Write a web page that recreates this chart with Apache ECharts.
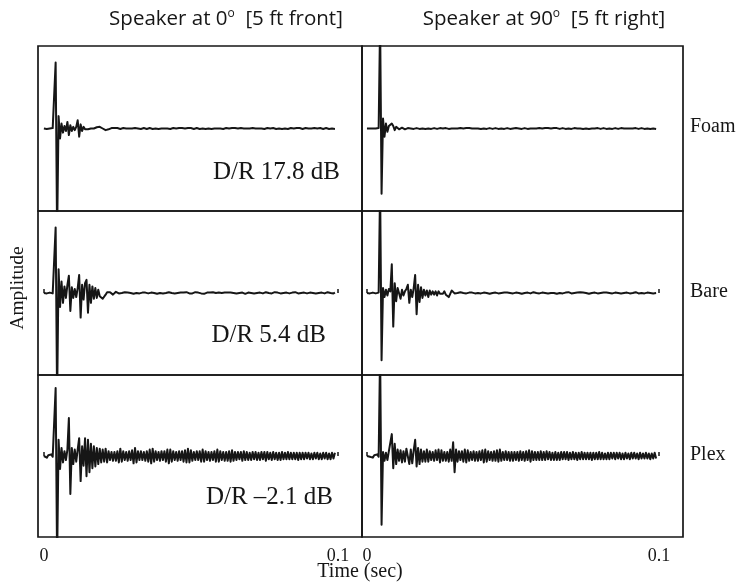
<!DOCTYPE html>
<html>
<head>
<meta charset="utf-8">
<script src="https://cdn.jsdelivr.net/npm/echarts@6/dist/echarts.min.js"></script>
<style>
  html, body { margin: 0; padding: 0; background: #fff; }
  #chart { width: 739px; height: 584px; }
</style>
</head>
<body>
<div id="chart"></div>
<script>
// Room impulse responses, sampled every 0.5 ms from t = 0 to ~0.1 s.
// Amplitude is in percent of the panel half-height (peaks beyond ±100 are clipped).
const SAMPLE_STEP = 0.0005;

const columnTitles = ['Speaker at 0', 'Speaker at 90'];
const columnNotes = ['[5 ft front]', '[5 ft right]'];
const rowNames = ['Foam', 'Bare', 'Plex'];
const drLabels = ['D/R 17.8 dB', 'D/R 5.4 dB', 'D/R \u20132.1 dB'];
const timeTicks = [0, 0.1];
const timeTickLabels = ['0', '0.1'];

const foam0 = [
  0, 0.5, -0.5, 0.5, 0, -0.5, 0.5, 0, 80, -130,
  15, -12, 6, -5, 3, -3, 8, -8, 4, -3,
  2, -2, 2, 10, -10, 5, -3, 2, -1, 1,
  -1, 1, 0, 1, 0, 1, 1.5, 2, 2, 1,
  0, -1, -2, -2, -1, 0, 0.5, 0, 0.5, 0,
  0.5, 0, -0.5, 0, 0.5, 0.5, 0, -0.5, 0, 0.5,
  0, -0.5, 0.5, 0, 0, 0.5, -0.5, 0, 0.5, 0,
  -0.5, 0, 0.5, 0, -0.5, 0.5, 0, 0, -0.5, 0.5,
  0, 0.5, 0, -0.5, 0, 0.5, -0.5, 0, 0.5, 0,
  0, -0.5, 0.5, 0, 0.5, -0.5, 0, 0, 0.5, -0.5,
  0.5, 0, -0.5, 0, 0.5, 0, -0.5, 0.5, 0, 0,
  -0.5, 0.5, 0, 0.5, -0.5, 0, 0, 0.5, 0, -0.5,
  0, 0.5, -0.5, 0, 0.5, 0, 0, -0.5, 0.5, 0,
  0.5, -0.5, 0, 0, 0.5, -0.5, 0, 0.5, 0, -0.5,
  0, 0, 0.5, -0.5, 0, 0.5, 0, -0.5, 0, 0.5,
  -0.5, 0, 0.5, 0, 0, -0.5, 0.5, 0, -0.5, 0.5,
  0, 0.5, -0.5, 0, 0, 0.5, -0.5, 0, 0.5, 0,
  0, -0.5, 0.5, 0, 0.5, 0, -0.5, 0, 0.5, -0.5,
  0, 0.5, 0, -0.5, 0.5, 0, 0, -0.5, 0.5, 0,
  -0.5, 0, 0.5, 0, -0.5, 0.5, 0, 0.5, -0.5
];

const foam90 = [
  0, 0.5, 0, -0.5, 0, 0.5, 0, 0, 0.5, 130,
  -79, 12, -10, 6, -4, 3, 5, 6, 3, -2,
  2, 3, -1, 0, 1, 0, -1, 0, 0.5, 0,
  0, 0.5, -0.5, 0, 0.5, 0, -0.5, 0.5, 0, 0,
  -0.5, 0.5, 0, 0.5, -0.5, 0, 0.5, 0, -0.5, 0,
  0.5, -0.5, 0, 0, 0.5, 0, -0.5, 0.5, 0, -0.5,
  0, 0.5, 0, -0.5, 0.5, 0, 0, -0.5, 0.5, 0,
  0.5, -0.5, 0, 0.5, 0, -0.5, 0, 0.5, -0.5, 0,
  0, 0.5, -0.5, 0, 0.5, 0, -0.5, 0, 0.5, 0.5,
  -0.5, 0, 0, 0.5, -0.5, 0, 0.5, 0, -0.5, 0.5,
  0, -0.5, 0.5, 0, 0, 0.5, -0.5, 0, 0.5, 0,
  -0.5, 0.5, 0, -0.5, 0, 0.5, 0, -0.5, 0.5, 0,
  0, -0.5, 0.5, 0, 0.5, -0.5, 0, 0, 0.5, -0.5,
  0.5, 0, -0.5, 0, 0.5, 0, -0.5, 0.5, 0, 0,
  -0.5, 0, 0.5, -0.5, 0, 0.5, 0, 0, -0.5, 0.5,
  0, 0.5, -0.5, 0, 0, 0.5, 0, -0.5, 0.5, 0,
  -0.5, 0, 0.5, 0, -0.5, 0.5, 0, 0.5, -0.5, 0,
  0.5, 0, -0.5, 0, 0.5, -0.5, 0, 0.5, 0, -0.5,
  0, 0.5, 0, -0.5, 0.5, 0, -0.5, 0, 0.5, 0,
  -0.5, 0.5, 0, 0, -0.5, 0.5, 0, 0.5, -0.5
];

const bare0 = [
  0, 0.5, -0.5, 0, 0.5, 0, -0.5, 0.5, 80, -130,
  29, -17, 14, -12, 8, -6, 10, 21, -22, 7,
  -6, 5, -5, 6, 22, -30, 10, -8, 12, 16,
  -24, 10, -12, 8, -7, 6, -6, 4, -4, -6,
  -7, -5, -2, 1, 2, 1, -1, -2, 0, 1.5,
  1, -0.5, 0.5, 0, -0.5, 1, 1, 0.5, -0.5, 0,
  0.5, -1, 0.5, 0, 1, -0.5, 0, 0.5, -1, 0.5,
  0, -0.5, 1, 0.5, -0.5, 0, 0.5, -1, 0.5, 0,
  1, -0.5, 0.5, 0, -0.5, 1, -0.5, 0, 0.5, -0.5,
  0.5, 0, -1, 0.5, 0, 0.5, -0.5, 1, 0, -0.5,
  0.5, -0.5, 0, 1, -0.5, 0.5, 0, -0.5, 0.5, -1,
  0, 0.5, -0.5, 0.5, 0, 1, -0.5, 0, -0.5, 0.5,
  1, 0, -0.5, 0.5, -1, 0.5, 0, 0.5, -0.5, 0,
  0.5, -0.5, 1, 0, -0.5, 0.5, 0, -1, 0.5, 0.5,
  -0.5, 0, 0.5, -0.5, 1, 0, -0.5, 0.5, 0, -0.5,
  0.5, 1, -0.5, 0, 0.5, -0.5, 0, 1, -0.5, 0.5,
  0, -0.5, 0.5, 0, -1, 0.5, 0.5, -0.5, 0, 0.5,
  -0.5, 1, 0, -0.5, 0.5, 0, -0.5, 0.5, 1, -0.5,
  0, 0.5, -0.5, 0, 1, -0.5, 0.5, 0, -0.5, 0.5,
  0, -0.5, 0.5, 1, -0.5, 0, 0.5, -0.5, 0.5
];

const bare90 = [
  0, 0.5, -0.5, 0, 0.5, 0, -0.5, 0, 0.5, 130,
  -82, 6, -5, 4, -3, 5, 2, 35, -41, 12,
  -10, 6, 8, -7, 4, -3, 2, 5, 10, -12,
  4, -5, 6, 22, -26, 10, -11, 7, -6, 4,
  -3, 3, -5, 3, -2, 2, -2, 2, -3, 2,
  -1, 1, -1, 2, -2, -3, -5, -7, 3, 1,
  -0.5, 0.5, 0, -0.5, 1, -0.5, 0, 0.5, -0.5, 0,
  0.5, -1, 0.5, 0, -0.5, 0.5, 0, 1, -0.5, 0,
  0.5, -0.5, 0, 0.5, -1, 0.5, 0, -0.5, 0.5, 0,
  -0.5, 1, 0, -0.5, 0.5, 0, 0.5, -0.5, 0, 1,
  -0.5, 0, 0.5, -0.5, 0, 0.5, -1, 0.5, 0, -0.5,
  0.5, 0, -0.5, 0.5, 1, -0.5, 0, 0.5, -0.5, 0,
  0.5, -0.5, 0, 1, -0.5, 0.5, 0, -0.5, 0, 0.5,
  -1, 0.5, 0, 0.5, -0.5, 0, 0.5, -0.5, 1, 0,
  -0.5, 0.5, 0, -0.5, 0.5, 0, 1, -0.5, 0.5, -0.5,
  0, 0.5, -1, 0.5, 0, -0.5, 0.5, 0, -0.5, 1,
  0, -0.5, 0.5, 0, 0.5, -0.5, 0, 1, -0.5, 0,
  0.5, -0.5, 0, 0.5, -0.5, 1, 0, -0.5, 0.5, 0,
  -0.5, 0.5, 0, -0.5, 1, 0, -0.5, 0.5, 0, 0.5,
  -0.5, 0, 0.5, -0.5, 0, 0.5, -0.5, 0.5, 0
];

const plex0 = [
  0, 2, -2, 1, -1, 2, -1, 1, 84, -130,
  20, -16, 10, -8, 6, -5, 8, 47, -47, 10,
  -10, 8, -7, 8, 22, -31, 12, -12, 22, -25,
  20, -20, 15, -15, 12, -13, 10, -10, 9, -8,
  8, -7, 9, -8, 6, -5, 5, -6, 5, -6,
  6, -8, 9, -7, 6, -5, 5, -6, 6, -5,
  7, -9, 10, -8, 6, -5, 6, -5, 5, -6,
  6, -7, 8, -9, 9, -7, 6, -5, 5, -6,
  6, -5, 6, -7, 8, -9, 8, -7, 6, -5,
  5, -6, 6, -5, 6, -7, 7, -8, 9, -8,
  7, -6, 5, -5, 6, -5, 6, -7, 8, -7,
  6, -5, 5, -6, 5, -5, 6, -7, 8, -7,
  6, -5, 5, -6, 5, -6, 6, -7, 7, -6,
  5, -5, 5, -4, 5, -6, 6, -5, 5, -5,
  4, -5, 5, -4, 5, -5, 4, -5, 5, -4,
  5, -6, 5, -4, 4, -5, 5, -4, 4, -5,
  4, -5, 5, -4, 4, -4, 5, -4, 4, -4,
  4, -4, 4, -5, 4, -4, 4, -4, 4, -3,
  4, -4, 3, -4, 4, -3, 4, -4, 3, -4,
  4, -3, 4, -4, 3, -4, 4, -3, 4
];

const plex90 = [
  0, 2, -1, 1, -2, 1, -1, 2, -1, 130,
  -85, 5, -6, 4, -5, 6, 8, 27, -15, 15,
  -10, 8, -6, 7, -8, 6, -7, 9, 10, -10,
  8, -9, 7, 20, -13, 10, -10, 8, -7, 6,
  -7, 8, -7, 6, -5, 5, -6, 7, -5, 8,
  -8, 7, -6, 5, -6, 5, -7, 8, -6, 17,
  -20, 8, -7, 6, -5, 6, -7, 8, -8, 7,
  -6, 5, -5, 6, -6, 5, -6, 6, -5, 7,
  -8, 8, -7, 6, -5, 5, -6, 6, -6, 7,
  -7, 8, -6, 5, -5, 6, -5, 5, -6, 5,
  -6, 5, -5, 5, -6, 6, -5, 5, -6, 6,
  -5, 7, -7, 6, -5, 5, -5, 5, -5, 6,
  -5, 5, -5, 6, -4, 5, -5, 4, -5, 5,
  -5, 4, -5, 5, -4, 5, -4, 5, -5, 4,
  -4, 5, -4, 4, -5, 4, -4, 5, -4, 4,
  -4, 4, -4, 4, -5, 4, -4, 4, -4, 5,
  -4, 4, -4, 3, -4, 4, -4, 4, -3, 4,
  -4, 4, -3, 4, -4, 3, -4, 4, -3, 3,
  -4, 4, -3, 4, -3, 3, -4, 4, -3, 3,
  -3, 4, -3, 3, -4, 3, -3, 4, -3
];

// panel order: row-major (Foam, Bare, Plex) x (0 deg, 90 deg)
const panelSeries = [foam0, foam90, bare0, bare90, plex0, plex90];

const chart = echarts.init(document.getElementById('chart'), null, { renderer: 'canvas' });

const colLeft = [38, 362];
const colWidth = [324, 321];
const colRange = [[-0.002, 0.1082], [-0.0017, 0.1082]];
const rowTop = [46, 211, 375];
const rowHeight = [165, 164, 162];

const INK = '#161616';
const SERIF = '"Liberation Serif", "Times New Roman", serif';
const SANS = '"Open Sans", "Noto Sans", sans-serif';

const grids = [], xAxes = [], yAxes = [], series = [];
for (let r = 0; r < 3; r++) {
  for (let c = 0; c < 2; c++) {
    const k = r * 2 + c;
    grids.push({
      left: colLeft[c], top: rowTop[r], width: colWidth[c], height: rowHeight[r],
      show: true, borderColor: INK, borderWidth: 1.7, backgroundColor: 'transparent'
    });
    const showTicks = r > 0;
    const showLabels = r === 2;
    xAxes.push({
      type: 'value', gridIndex: k, min: colRange[c][0], max: colRange[c][1],
      axisLine: { show: false },
      splitLine: { show: false },
      axisTick: {
        show: showTicks, inside: true, length: 4, customValues: timeTicks,
        lineStyle: { color: INK, width: 1.5 }
      },
      axisLabel: {
        show: showLabels, customValues: timeTicks, margin: 10,
        formatter: v => timeTickLabels[timeTicks.indexOf(v)] ?? '',
        fontFamily: SERIF, fontSize: 18, color: INK
      }
    });
    yAxes.push({ type: 'value', gridIndex: k, min: -100, max: 100, show: false });
    series.push({
      type: 'line', xAxisIndex: k, yAxisIndex: k,
      data: panelSeries[k].map((a, i) => [i * SAMPLE_STEP, a]),
      showSymbol: false, symbol: 'none', clip: true, animation: false,
      lineStyle: { color: INK, width: 2, join: 'round' }
    });
  }
}

const graphics = [];
// column headings
const titleCenters = [226, 544];
for (let c = 0; c < 2; c++) {
  graphics.push({
    type: 'text', x: titleCenters[c], y: 19,
    style: {
      text: columnTitles[c] + '{sup|o}  ' + columnNotes[c],
      font: '20.5px ' + SANS, fill: INK, align: 'center', verticalAlign: 'middle',
      rich: { sup: { fontSize: 12, fontFamily: SANS, fill: INK, verticalAlign: 'top', padding: [0, 0, 10, 0] } }
    }
  });
}
// row names on the right
const rowNameY = [127, 292, 455];
rowNames.forEach((name, r) => {
  graphics.push({
    type: 'text', x: 690, y: rowNameY[r],
    style: { text: name, font: '20px ' + SERIF, fill: INK, align: 'left', verticalAlign: 'middle' }
  });
});
// direct-to-reverberant ratios in the 0 deg column
const drRight = [340, 326, 333];
const drY = [172, 335, 497];
drLabels.forEach((t, r) => {
  graphics.push({
    type: 'text', x: drRight[r], y: drY[r],
    style: { text: t, font: '25px ' + SERIF, fill: INK, align: 'right', verticalAlign: 'middle' }
  });
});
// axis names
graphics.push({
  type: 'text', x: 18, y: 288, rotation: Math.PI / 2,
  style: { text: 'Amplitude', font: '19.5px ' + SERIF, fill: INK, align: 'center', verticalAlign: 'middle' }
});
graphics.push({
  type: 'text', x: 360, y: 572,
  style: { text: 'Time (sec)', font: '20px ' + SERIF, fill: INK, align: 'center', verticalAlign: 'middle' }
});

chart.setOption({
  backgroundColor: '#ffffff',
  animation: false,
  grid: grids,
  xAxis: xAxes,
  yAxis: yAxes,
  series: series,
  graphic: graphics
});
</script>
</body>
</html>
